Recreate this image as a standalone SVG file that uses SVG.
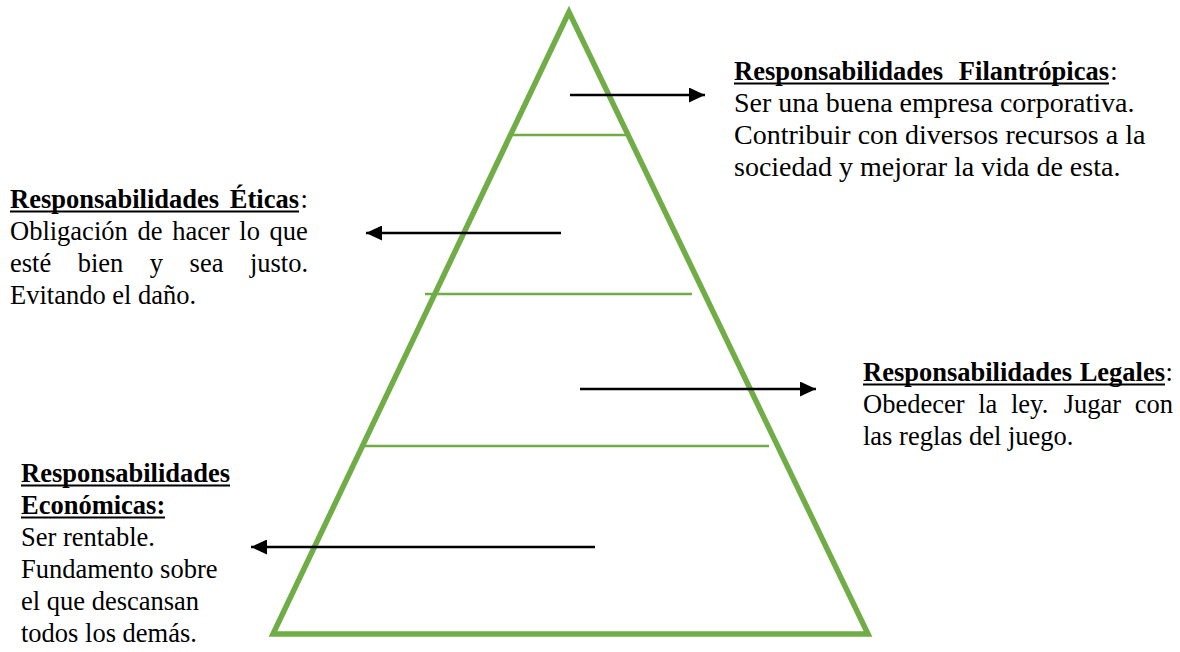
<svg xmlns="http://www.w3.org/2000/svg" width="1180" height="652" viewBox="0 0 1180 652">
  <style>
    text { font-family: "Liberation Serif", "Times New Roman", serif; font-size: 26.5px; fill: #000; }
    .h { font-weight: bold; }
    .big { font-size: 28px; }
    .ul { stroke: #000; stroke-width: 2; }
    .tier { stroke: #70AD47; stroke-width: 2.5; fill: none; }
    .arrow { stroke: #000; stroke-width: 2.5; fill: none; marker-end: url(#head); }
  </style>
  <defs>
    <marker id="head" markerUnits="userSpaceOnUse" markerWidth="17" markerHeight="15" refX="16" refY="7.5" orient="auto">
      <path d="M0,0 L16,7.5 L0,15 Z" fill="#000"/>
    </marker>
  </defs>
  <rect width="1180" height="652" fill="#fff"/>

  <!-- pyramid outline and tier dividers -->
  <g id="pyramid">
    <polygon points="569,12 273,634 868,634" fill="none" stroke="#70AD47" stroke-width="5.5" stroke-linejoin="miter"/>
    <line class="tier" x1="510" y1="135" x2="626" y2="135"/>
    <line class="tier" x1="425" y1="294" x2="692" y2="294"/>
    <line class="tier" x1="365" y1="446" x2="769" y2="446"/>
  </g>

  <!-- pointers from each tier to its description -->
  <g id="connectors">
    <line class="arrow" x1="570" y1="95" x2="705" y2="95"/>
    <line class="arrow" x1="561" y1="233" x2="366" y2="233"/>
    <line class="arrow" x1="580" y1="389" x2="816" y2="389"/>
    <line class="arrow" x1="595" y1="547" x2="251" y2="547"/>
  </g>

  <!-- philanthropic -->
  <g id="filantropicas">
    <text class="h" x="734" y="80">Responsabilidades</text>
    <text class="h" x="1109" y="80" text-anchor="end">Filantrópicas</text>
    <text class="big" x="1110" y="80">:</text>
    <line class="ul" x1="734" y1="83.5" x2="1109" y2="83.5"/>
    <text class="big" x="734" y="112">Ser una buena empresa corporativa.</text>
    <text class="big" x="734" y="144">Contribuir con diversos recursos a la</text>
    <text class="big" x="734" y="176">sociedad y mejorar la vida de esta.</text>
  </g>

  <!-- ethical -->
  <g id="eticas">
    <text class="h" x="10" y="208">Responsabilidades</text>
    <text class="h" x="299" y="208" text-anchor="end">Éticas</text>
    <text x="300.5" y="208">:</text>
    <line class="ul" x1="10" y1="211.5" x2="299" y2="211.5"/>
    <text y="240"><tspan x="10">Obligación</tspan><tspan x="137.5">de</tspan><tspan x="172.2">hacer</tspan><tspan x="239.3">lo</tspan><tspan x="269.6">que</tspan></text>
    <text y="272"><tspan x="10">esté</tspan><tspan x="77.7">bien</tspan><tspan x="149.8">y</tspan><tspan x="189.6">sea</tspan><tspan x="249.9">justo.</tspan></text>
    <text x="10" y="304">Evitando el daño.</text>
  </g>

  <!-- legal -->
  <g id="legales">
    <text class="h" x="863" y="381">Responsabilidades</text>
    <text class="h" x="1165" y="381" text-anchor="end">Legales</text>
    <text x="1165.5" y="381">:</text>
    <line class="ul" x1="863" y1="384.5" x2="1165" y2="384.5"/>
    <text y="413"><tspan x="863">Obedecer</tspan><tspan x="978.2">la</tspan><tspan x="1011">ley.</tspan><tspan x="1063.7">Jugar</tspan><tspan x="1134.8">con</tspan></text>
    <text x="863" y="445">las reglas del juego.</text>
  </g>

  <!-- economic -->
  <g id="economicas">
    <text class="h" x="21" y="482">Responsabilidades</text>
    <line class="ul" x1="21" y1="485.5" x2="230" y2="485.5"/>
    <text class="h" x="21" y="514">Económicas:</text>
    <line class="ul" x1="21" y1="517.5" x2="165" y2="517.5"/>
    <text x="21" y="546">Ser rentable.</text>
    <text x="21" y="578">Fundamento sobre</text>
    <text x="21" y="610">el que descansan</text>
    <text x="21" y="642">todos los demás.</text>
  </g>
</svg>
